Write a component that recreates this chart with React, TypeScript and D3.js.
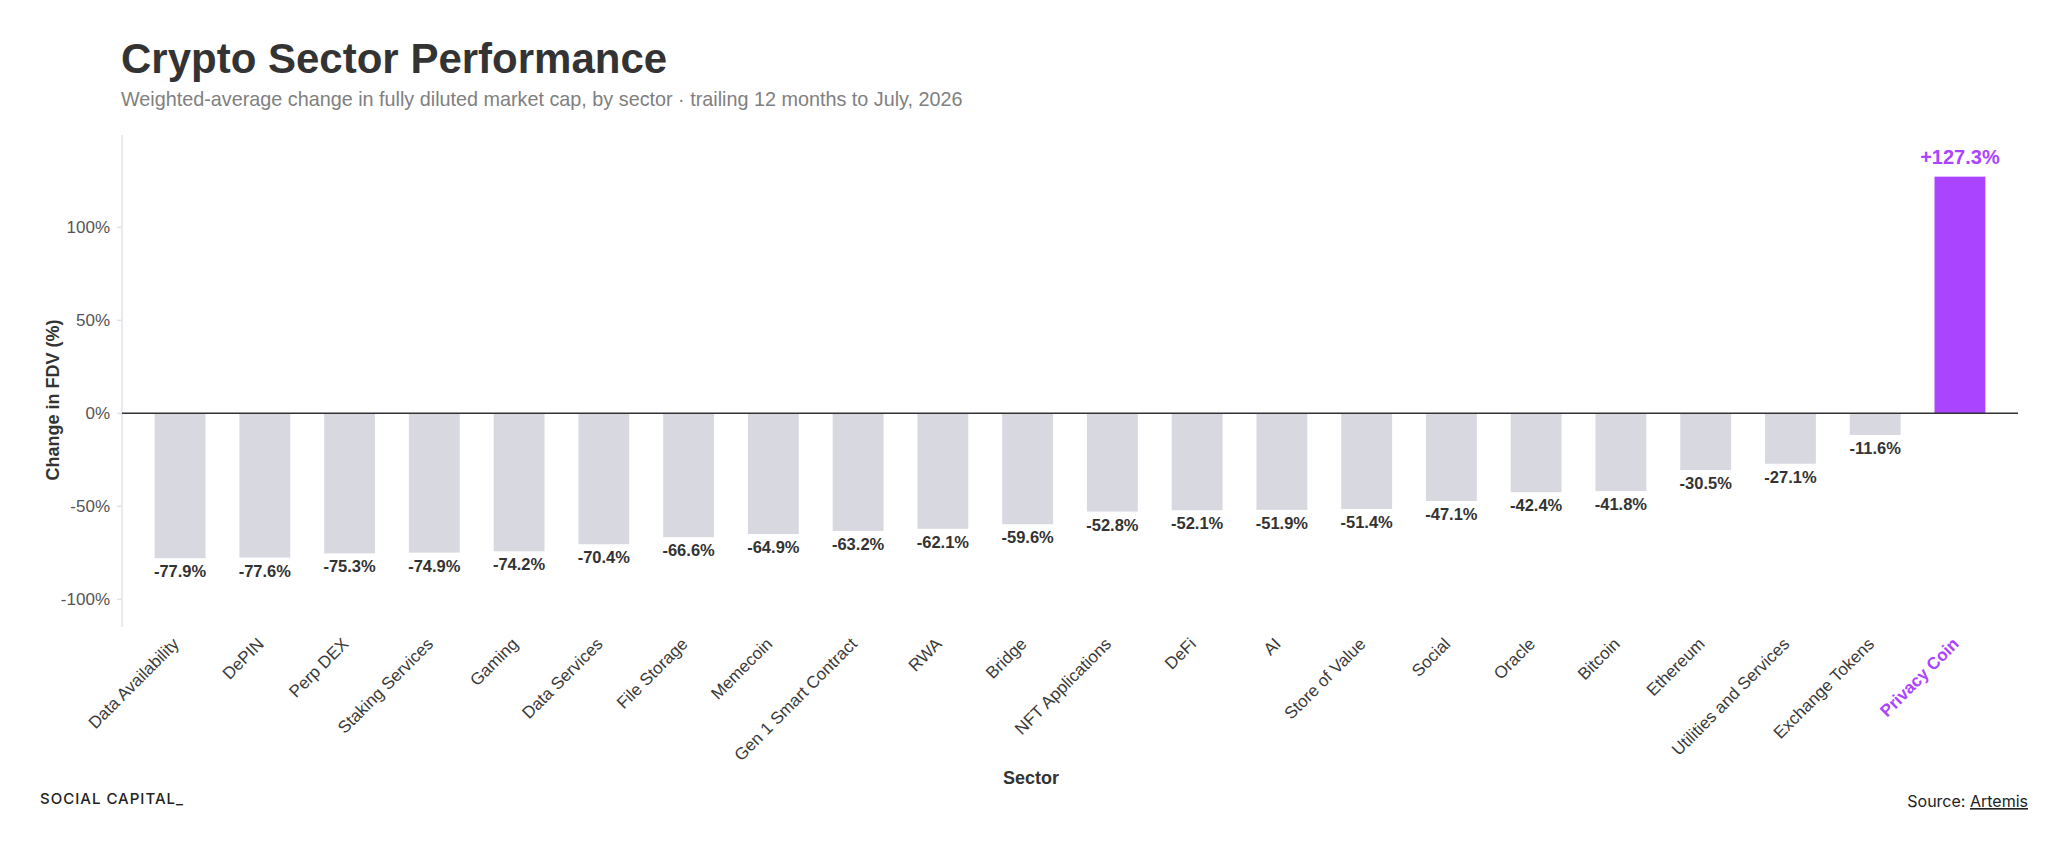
import React from "react";
import * as d3 from "d3";

const sectors = [
  "Data Availability", "DePIN", "Perp DEX", "Staking Services", "Gaming", "Data Services",
  "File Storage", "Memecoin", "Gen 1 Smart Contract", "RWA", "Bridge", "NFT Applications",
  "DeFi", "AI", "Store of Value", "Social", "Oracle", "Bitcoin", "Ethereum",
  "Utilities and Services", "Exchange Tokens", "Privacy Coin",
];
const changes = [
  -77.9, -77.6, -75.3, -74.9, -74.2, -70.4, -66.6, -64.9, -63.2, -62.1, -59.6, -52.8,
  -52.1, -51.9, -51.4, -47.1, -42.4, -41.8, -30.5, -27.1, -11.6, 127.3,
];
const yTicks = [-100, -50, 0, 50, 100];
const highlight = "Privacy Coin";

const W = 2048;
const H = 862;
const left = 122;
const right = 2018;
const top = 135;
const bottom = 627;

const PURPLE = "#aa44ff";
const GRAY = "#d8d8e0";
const FONT = "'Liberation Sans', Arial, Helvetica, sans-serif";

export default function App() {
  const x = d3.scaleBand<string>()
    .domain(sectors)
    .range([left, right])
    .paddingInner(0.4)
    .paddingOuter(0.385);
  const y = d3.scaleLinear().domain([-114.9, 149.7]).range([bottom, top]);

  const fmt = (v: number) => (v > 0 ? "+" : "") + v.toFixed(1) + "%";

  return (
    <svg width={W} height={H} style={{ position: "absolute", left: 0, top: 0 }} fontFamily={FONT}>
      <rect width={W} height={H} fill="#fff" />
      <text x={121} y={73} fontSize={42} fontWeight="bold" fill="#333">Crypto Sector Performance</text>
      <text x={121} y={106} fontSize={19.8} fill="#808080">
        Weighted-average change in fully diluted market cap, by sector · trailing 12 months to July, 2026
      </text>

      {/* y axis */}
      <line x1={left} x2={left} y1={top} y2={bottom} stroke="#e2e2ea" strokeWidth={1.5} />
      {yTicks.map((t) => (
        <g key={t} transform={`translate(0,${y(t)})`}>
          <line x1={left - 5} x2={left} stroke="#e2e2ea" strokeWidth={1.5} />
          <text x={110} dy="0.35em" textAnchor="end" fontSize={17} fill="#555">{t}%</text>
        </g>
      ))}
      <text transform={`translate(53,400) rotate(-90)`} textAnchor="middle" dy="0.35em"
            fontSize={18} fontWeight="bold" fill="#333">Change in FDV (%)</text>

      {/* bars */}
      {sectors.map((s, i) => {
        const v = changes[i];
        const hi = s === highlight;
        const y0 = y(Math.max(0, v));
        const h = Math.abs(y(v) - y(0));
        const cx = (x(s) as number) + x.bandwidth() / 2;
        return (
          <g key={s}>
            <rect x={x(s)} y={y0} width={x.bandwidth()} height={h} fill={hi ? PURPLE : GRAY} />
            <text x={cx} y={v < 0 ? y(v) + 19 : y(v) - 13} textAnchor="middle"
                  fontSize={hi ? 20 : 16.5} fontWeight="bold" fill={hi ? PURPLE : "#333"}>
              {fmt(v)}
            </text>
            <text transform={`translate(${cx},${bottom + 18}) rotate(-45)`} textAnchor="end"
                  fontSize={17} fontWeight={hi ? "bold" : "normal"} fill={hi ? PURPLE : "#3a3a3a"}>
              {s}
            </text>
          </g>
        );
      })}
      <line x1={left} x2={right} y1={y(0)} y2={y(0)} stroke="#333" strokeWidth={1.5} />

      <text x={1031} y={784} textAnchor="middle" fontSize={18} fontWeight="bold" fill="#333">Sector</text>

      <text x={40} y={804} fontSize={15} fontFamily="Inter, sans-serif" fontWeight={500}
            letterSpacing={1} fill="#222">SOCIAL CAPITAL_</text>
      <text x={2028} y={807} textAnchor="end" fontSize={16} fontFamily="Inter, sans-serif" fill="#222">
        Source: <tspan textDecoration="underline">Artemis</tspan>
      </text>
    </svg>
  );
}
